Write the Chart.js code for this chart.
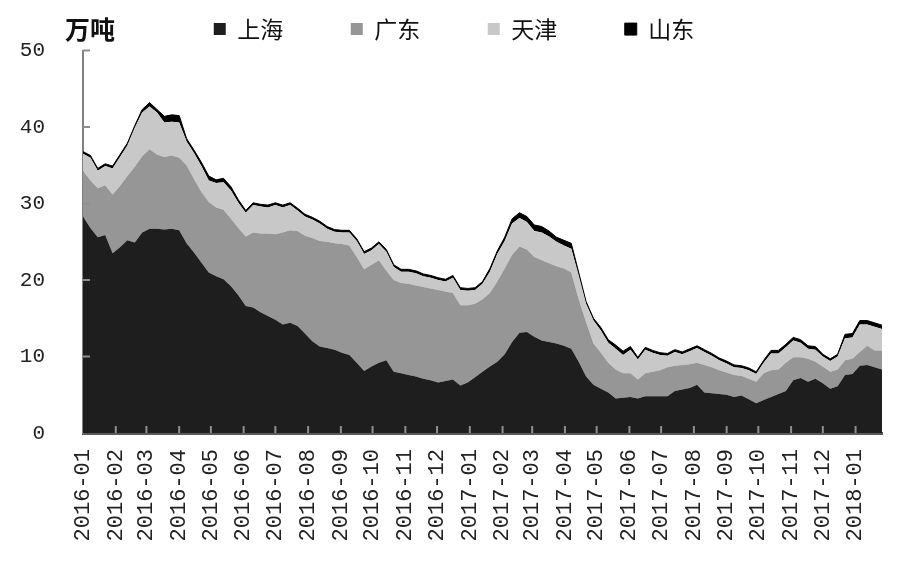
<!DOCTYPE html>
<html lang="zh">
<head>
<meta charset="utf-8">
<title>港口库存</title>
<script src="https://cdn.jsdelivr.net/npm/chart.js@4.4.1/dist/chart.umd.min.js"></script>
<style>
  html, body { margin: 0; padding: 0; background: #fff; }
  #wrap { width: 900px; height: 565px; position: relative; }
</style>
</head>
<body>
<div id="wrap"><canvas id="myChart"></canvas></div>
<script>
// weekly stocks (万吨), one value per week starting at firstWeek
const firstWeek = '2016-01-01';

const monthLabels = [
    '2016-01', '2016-02', '2016-03', '2016-04', '2016-05', '2016-06', '2016-07',
    '2016-08', '2016-09', '2016-10', '2016-11', '2016-12', '2017-01', '2017-02',
    '2017-03', '2017-04', '2017-05', '2017-06', '2017-07', '2017-08', '2017-09',
    '2017-10', '2017-11', '2017-12', '2018-01'
];

const seriesNames = ['上海', '广东', '天津', '山东'];
const seriesColors = ['#1e1e1e', '#969696', '#c8c8c8', '#000000'];

const shanghai = [
    28.3, 26.8, 25.6, 25.9, 23.5, 24.3, 25.2, 24.9, 26.2, 26.7,
    26.7, 26.6, 26.7, 26.5, 24.8, 23.6, 22.3, 21.0, 20.5, 20.1,
    19.2, 18.0, 16.6, 16.4, 15.8, 15.3, 14.8, 14.2, 14.4, 14.0,
    13.0, 12.0, 11.3, 11.1, 10.9, 10.5, 10.2, 9.2, 8.1, 8.7,
    9.2, 9.5, 8.0, 7.8, 7.6, 7.4, 7.1, 6.9, 6.6, 6.8,
    7.0, 6.2, 6.6, 7.3, 8.0, 8.7, 9.3, 10.3, 11.9, 13.1,
    13.2, 12.6, 12.1, 11.9, 11.7, 11.4, 11.0, 9.3, 7.4, 6.3,
    5.8, 5.3, 4.5, 4.6, 4.7, 4.5, 4.8, 4.8, 4.8, 4.8,
    5.5, 5.7, 5.9, 6.3, 5.3, 5.2, 5.1, 5.0, 4.7, 4.9,
    4.4, 3.9, 4.3, 4.7, 5.1, 5.5, 6.9, 7.2, 6.7, 7.1,
    6.5, 5.8, 6.1, 7.6, 7.7, 8.8, 8.9, 8.6, 8.3
];
const guangdong = [
    6.0, 6.2, 6.4, 6.5, 7.7, 8.0, 8.4, 9.9, 10.0, 10.4,
    9.7, 9.5, 9.6, 9.5, 10.2, 9.6, 9.2, 9.2, 9.0, 9.1,
    8.8, 8.8, 9.1, 9.8, 10.3, 10.8, 11.2, 12.0, 12.1, 12.4,
    12.8, 13.5, 13.8, 13.9, 13.9, 14.2, 14.3, 13.8, 13.3, 13.3,
    13.4, 11.7, 12.0, 11.8, 11.9, 11.9, 12.0, 12.0, 12.1, 11.7,
    11.3, 10.5, 10.1, 9.6, 9.5, 9.6, 10.5, 11.2, 11.4, 11.3,
    10.8, 10.4, 10.5, 10.3, 10.1, 10.1, 10.0, 8.2, 7.1, 5.4,
    4.7, 3.9, 3.8, 3.2, 3.1, 2.5, 3.0, 3.2, 3.4, 3.8,
    3.3, 3.2, 3.1, 2.9, 3.6, 3.4, 3.1, 2.9, 2.9, 2.6,
    2.7, 2.8, 3.5, 3.5, 3.2, 3.7, 3.0, 2.7, 3.0, 2.2,
    2.2, 2.2, 2.2, 1.9, 2.0, 1.8, 2.5, 2.2, 2.5
];
const tianjin = [
    2.2, 3.0, 2.3, 2.5, 3.4, 3.8, 4.0, 5.1, 5.7, 5.6,
    5.5, 4.5, 4.4, 4.6, 3.1, 3.4, 3.4, 2.8, 3.2, 3.6,
    3.7, 3.3, 3.1, 3.6, 3.5, 3.4, 3.8, 3.3, 3.3, 2.7,
    2.5, 2.4, 2.3, 1.7, 1.5, 1.5, 1.7, 2.1, 2.0, 1.9,
    2.1, 2.5, 1.7, 1.5, 1.6, 1.6, 1.4, 1.4, 1.3, 1.3,
    2.0, 2.0, 1.9, 1.8, 2.0, 2.8, 3.6, 3.6, 4.1, 3.7,
    3.6, 3.4, 3.6, 3.5, 3.2, 3.0, 3.1, 3.1, 2.4, 3.0,
    2.9, 2.6, 2.7, 2.4, 3.1, 2.6, 3.1, 2.5, 2.0, 1.5,
    1.8, 1.4, 1.7, 1.9, 1.7, 1.5, 1.3, 1.2, 1.0, 1.0,
    1.1, 1.0, 1.4, 2.2, 2.1, 2.0, 2.2, 1.9, 1.3, 1.6,
    1.3, 1.4, 1.7, 2.9, 2.8, 3.6, 2.8, 3.1, 2.8
];
const shandong = [
    0.3, 0.3, 0.3, 0.3, 0.3, 0.3, 0.3, 0.3, 0.4, 0.5,
    0.4, 0.8, 0.9, 0.9, 0.4, 0.4, 0.5, 0.6, 0.4, 0.5,
    0.5, 0.4, 0.3, 0.3, 0.3, 0.3, 0.3, 0.3, 0.3, 0.3,
    0.3, 0.3, 0.3, 0.3, 0.3, 0.3, 0.3, 0.3, 0.3, 0.3,
    0.3, 0.3, 0.3, 0.3, 0.3, 0.3, 0.3, 0.3, 0.3, 0.3,
    0.3, 0.3, 0.3, 0.3, 0.3, 0.4, 0.4, 0.5, 0.6, 0.7,
    0.7, 0.8, 0.8, 0.7, 0.6, 0.7, 0.7, 0.4, 0.3, 0.3,
    0.4, 0.4, 0.5, 0.5, 0.4, 0.3, 0.3, 0.3, 0.3, 0.3,
    0.3, 0.3, 0.3, 0.3, 0.3, 0.3, 0.3, 0.3, 0.3, 0.3,
    0.3, 0.3, 0.3, 0.4, 0.4, 0.4, 0.4, 0.4, 0.4, 0.4,
    0.3, 0.3, 0.3, 0.5, 0.5, 0.5, 0.5, 0.5, 0.5
];

const dayMs = 86400000;
const startMs = Date.parse(firstWeek + 'T00:00:00Z');
const dayOf = (ym) => (Date.parse(ym + '-01T00:00:00Z') - startMs) / dayMs;
const weekDays = shanghai.map((v, i) => i * 7);
const monthDays = monthLabels.map(dayOf);

const toPoints = (values) => values.map((v, i) => ({ x: weekDays[i], y: v }));

const allSeries = [shanghai, guangdong, tianjin, shandong];
const datasets = allSeries.map((values, i) => ({
    label: seriesNames[i],
    data: toPoints(values),
    backgroundColor: seriesColors[i],
    borderColor: seriesColors[i],
    borderWidth: i === 3 ? 1 : 0,
    fill: i === 0 ? 'origin' : '-1',
    pointRadius: 0,
    tension: 0
}));

// small tick marks pointing into the plot, as in the original
const innerTicks = {
    id: 'innerTicks',
    afterDraw(chart) {
        const { ctx, chartArea, scales } = chart;
        ctx.save();
        ctx.lineWidth = 2;
        ctx.strokeStyle = '#8f8f8f';
        ctx.beginPath();
        scales.y.ticks.forEach((t) => {
            if (t.value === 0) return;
            const y = scales.y.getPixelForValue(t.value);
            ctx.moveTo(chartArea.left, y);
            ctx.lineTo(chartArea.left + 7, y);
        });
        scales.x.ticks.forEach((t, i) => {
            if (i === 0) return;
            const x = scales.x.getPixelForValue(t.value);
            ctx.moveTo(x, chartArea.bottom);
            ctx.lineTo(x, chartArea.bottom - 7);
        });
        ctx.stroke();
        ctx.restore();
    }
};

// legend row sits a little right of centre in the original
const legendShift = {
    id: 'legendShift',
    afterLayout(chart) {
        chart.legend.left += 13;
        chart.legend.right += 13;
    }
};

// unit text in the top left corner
const unitLabel = {
    id: 'unitLabel',
    afterDraw(chart) {
        const ctx = chart.ctx;
        ctx.save();
        ctx.font = 'bold 25px "Noto Sans CJK SC"';
        ctx.fillStyle = '#111';
        ctx.textBaseline = 'middle';
        ctx.textAlign = 'left';
        ctx.fillText('万吨', chart.chartArea.left - 18, 29);
        ctx.restore();
    }
};

const ctx = document.getElementById('myChart').getContext('2d');
const myChart = new Chart(ctx, {
    type: 'line',
    data: { datasets: datasets },
    options: {
        responsive: true,
        maintainAspectRatio: false,
        animation: false,
        layout: { padding: { top: -50, right: 18, left: 0, bottom: 0 } },
        plugins: {
            tooltip: { enabled: false },
            legend: {
                position: 'top',
                labels: {
                    boxWidth: 12,
                    boxHeight: 12,
                    padding: 67.5,
                    color: '#111',
                    font: { family: '"Noto Sans CJK SC"', size: 23 }
                }
            }
        },
        scales: {
            x: {
                type: 'linear',
                min: 0,
                max: weekDays[weekDays.length - 1],
                bounds: 'data',
                z: 1,
                grid: { display: false, drawTicks: false },
                border: { display: true, color: '#5a5a5a', width: 3 },
                afterBuildTicks: (scale) => {
                    scale.ticks = monthDays.map((d) => ({ value: d }));
                },
                afterFit: (scale) => { scale.height = 132; },
                ticks: {
                    autoSkip: false,
                    maxRotation: 90,
                    minRotation: 90,
                    padding: 16,
                    color: '#222',
                    font: { family: '"Liberation Mono"', size: 22 },
                    callback: (value, index) => monthLabels[index]
                }
            },
            y: {
                stacked: true,
                min: 0,
                max: 50,
                z: 1,
                grid: { display: false, drawTicks: false },
                border: { display: true, color: '#808080', width: 2 },
                afterFit: (scale) => { scale.width = 83; },
                ticks: {
                    stepSize: 10,
                    padding: 38,
                    color: '#222',
                    font: { family: '"Liberation Mono"', size: 21 }
                }
            }
        }
    },
    plugins: [innerTicks, legendShift, unitLabel]
});
</script>
</body>
</html>
